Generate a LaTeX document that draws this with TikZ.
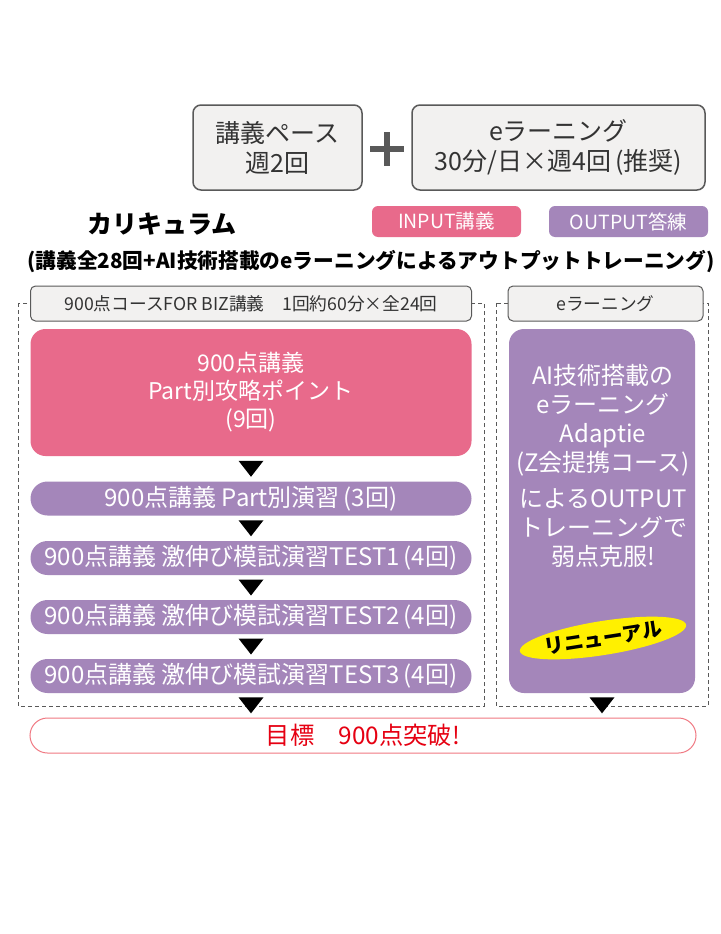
\documentclass[tikz,border=0pt]{standalone}
\usepackage{fontspec}
\setmainfont{Noto Sans CJK JP}
\usetikzlibrary{shapes.geometric,calc}
\definecolor{lecpink}{RGB}{232,106,139}
\definecolor{outpurple}{RGB}{164,134,186}
\definecolor{boxgray}{RGB}{242,241,240}
\definecolor{linegray}{RGB}{89,89,89}
\definecolor{goalred}{RGB}{230,0,18}
\definecolor{goalline}{RGB}{240,120,130}
\definecolor{renewyellow}{RGB}{255,240,0}
\tikzset{
  pacebox/.style={draw=linegray, line width=1.5pt, fill=boxgray, rounded corners=8pt, text=black!80, font=\fontsize{25}{30}\selectfont, align=center, inner sep=0pt},
  headbox/.style={draw=linegray, line width=1pt, fill=boxgray, rounded corners=5pt, text=black!80, font=\fontsize{17.7}{20}\selectfont, inner sep=0pt, minimum height=35pt},
  tagbox/.style={rounded corners=6pt, text=white, font=\fontsize{19.5}{22}\selectfont, inner sep=0pt, minimum height=31pt},
  barbox/.style={fill=outpurple, rounded corners=17pt, text=white, font=\fontsize{24}{28}\selectfont, minimum width=441pt, minimum height=34pt, inner sep=0pt},
  coursebox/.style={draw=linegray, line width=0.9pt, dash pattern=on 4pt off 3pt},
}
\newcommand\tridown[1]{\fill (#1) ++(-12.5,-8) -- ++(25,0) -- ++(-12.5,16) -- cycle;}
\begin{document}
\begin{tikzpicture}[x=1pt, y=-1pt]
\useasboundingbox[fill=white] (0,0) rectangle (720,934);
% pace
\node[pacebox, minimum width=169pt, minimum height=85pt] (pace) at (277.5,147.5) {講義ペース\\週2回};
\node[pacebox, minimum width=293pt, minimum height=85pt] (elpace) at (558.5,147.5) {eラーニング\\30分/日×週4回\,(推奨)};
\coordinate (plus) at ($(pace.east)!0.5!(elpace.west)$);
\draw[linegray, line width=6pt] ($(plus)+(-17,1.5)$) -- ++(34,0) ($(plus)+(0,-15.5)$) -- ++(0,34);
% title
\node[font=\bfseries\fontsize{25}{28}\selectfont] (title) at (162,224) {カリキュラム};
\node[tagbox, fill=lecpink, minimum width=149pt] (tagin) at (446.5,221.5) {INPUT講義};
\node[tagbox, fill=outpurple, minimum width=159pt] (tagout) at (628.5,221.5) {OUTPUT答練};
\node[font=\bfseries\fontsize{20.7}{24}\selectfont] (sub) at (371,262) {(講義全28回+AI技術搭載のeラーニングによるアウトプットトレーニング)};
% frames
\draw[coursebox] (18,303) rectangle (484,706);
\draw[coursebox] (496,303) rectangle (708,706);
\node[headbox, minimum width=441pt] (bizhead) at (251,303.5) {900点コースFOR BIZ講義　1回約60分×全24回};
\node[headbox, minimum width=195pt] (elhead) at (605.5,303.5) {eラーニング};
% input / output
\node[fill=lecpink, rounded corners=15pt, minimum width=441pt, minimum height=127pt, text=white, font=\fontsize{23}{28}\selectfont, align=center] (points) at (251,392.5) {900点講義\\Part別攻略ポイント\\(9回)};
\node[barbox] (drill) at (251,498.5) {900点講義 Part別演習\,(3回)};
\node[barbox] (test1) at (251,558) {900点講義 激伸び模試演習TEST1\,(4回)};
\node[barbox] (test2) at (251,617) {900点講義 激伸び模試演習TEST2\,(4回)};
\node[barbox] (test3) at (251,676) {900点講義 激伸び模試演習TEST3\,(4回)};
\node[fill=outpurple, rounded corners=15pt, minimum width=186pt, minimum height=364pt] (adaptie) at (602,511) {};
\node[text=white, font=\fontsize{24}{29}\selectfont, align=center] (adtext) at (603,466) {AI技術搭載の\\eラーニング\\Adaptie\\(Z会提携コース)\\[7pt]によるOUTPUT\\トレーニングで\\弱点克服!};
\node[ellipse, fill=renewyellow, minimum width=151pt, minimum height=34pt, inner sep=0pt, rotate=9, font=\bfseries\fontsize{20}{22}\selectfont] (renew) at (603,638) {リニューアル};
% goal
\node[draw=goalline, line width=1pt, rounded corners=17.5pt, minimum width=666pt, minimum height=35pt, inner sep=0pt, text=goalred, font=\fontsize{24.3}{28}\selectfont] (goal) at (363,735.5) {目標　900点突破!};
% arrows
\tridown{$(points.south)!0.5!(drill.north)$}
\tridown{$(drill.south)!0.5!(test1.north)$}
\tridown{$(test1.south)!0.5!(test2.north)$}
\tridown{$(test2.south)!0.5!(test3.north)$}
\tridown{$(test3.south)!0.5!(test3.south |- goal.north)$}
\tridown{$(adaptie.south)!0.5!(adaptie.south |- goal.north)$}
\end{tikzpicture}
\end{document}
